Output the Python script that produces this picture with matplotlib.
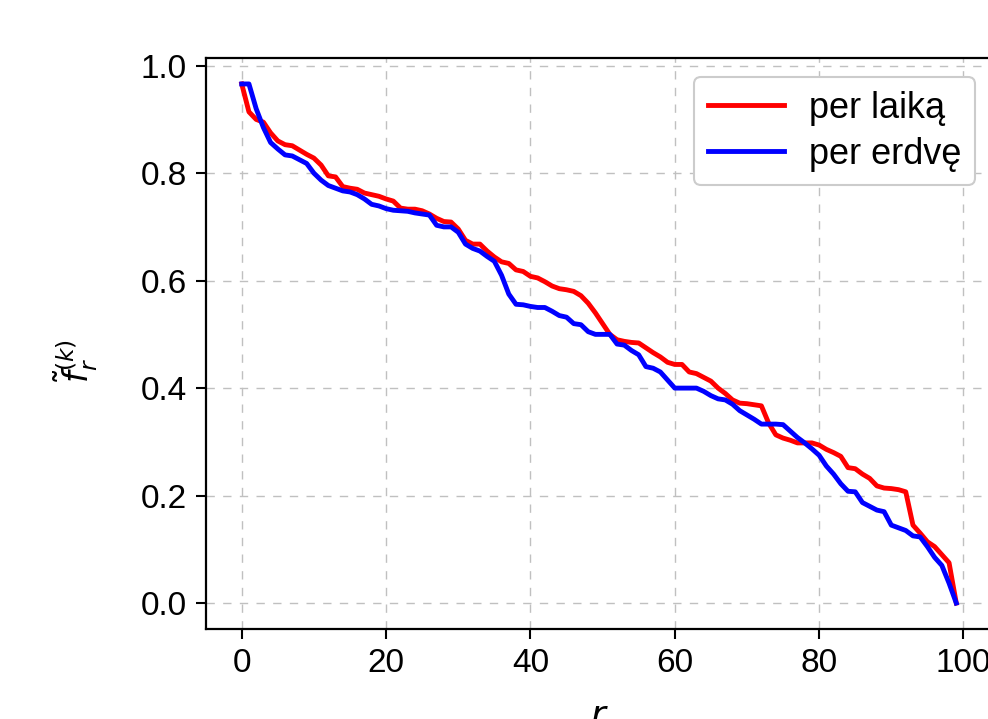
import matplotlib
matplotlib.use("Agg")
import matplotlib.pyplot as plt
import numpy as np

r = list(range(100))
per_laika = [0.966, 0.914, 0.900, 0.895, 0.875, 0.860, 0.853, 0.851, 0.843, 0.835,
             0.828, 0.815, 0.795, 0.793, 0.775, 0.772, 0.770, 0.763, 0.760, 0.757,
             0.752, 0.748, 0.735, 0.733, 0.733, 0.730, 0.724, 0.716, 0.710, 0.709,
             0.696, 0.675, 0.668, 0.668, 0.655, 0.644, 0.635, 0.632, 0.620, 0.617,
             0.608, 0.605, 0.598, 0.590, 0.585, 0.583, 0.580, 0.572, 0.558, 0.540,
             0.520, 0.500, 0.490, 0.487, 0.485, 0.484, 0.475, 0.466, 0.458, 0.448,
             0.444, 0.444, 0.430, 0.427, 0.420, 0.413, 0.400, 0.390, 0.378, 0.372,
             0.371, 0.369, 0.367, 0.335, 0.313, 0.307, 0.303, 0.298, 0.298, 0.298,
             0.294, 0.286, 0.280, 0.273, 0.252, 0.250, 0.240, 0.232, 0.218, 0.214,
             0.213, 0.211, 0.207, 0.145, 0.130, 0.114, 0.105, 0.090, 0.075, 0.000]
per_erdve = [0.966, 0.966, 0.920, 0.885, 0.857, 0.845, 0.834, 0.832, 0.825, 0.818,
             0.800, 0.787, 0.777, 0.772, 0.767, 0.765, 0.760, 0.752, 0.742, 0.739,
             0.734, 0.731, 0.730, 0.729, 0.726, 0.724, 0.722, 0.703, 0.700, 0.700,
             0.690, 0.668, 0.660, 0.655, 0.645, 0.636, 0.610, 0.575, 0.556, 0.555,
             0.552, 0.550, 0.550, 0.543, 0.535, 0.532, 0.520, 0.518, 0.505, 0.500,
             0.500, 0.500, 0.482, 0.480, 0.470, 0.462, 0.440, 0.437, 0.430, 0.415,
             0.400, 0.400, 0.400, 0.400, 0.394, 0.386, 0.380, 0.378, 0.370, 0.358,
             0.350, 0.342, 0.333, 0.333, 0.333, 0.332, 0.320, 0.308, 0.298, 0.287,
             0.275, 0.255, 0.240, 0.222, 0.208, 0.207, 0.187, 0.180, 0.173, 0.170,
             0.145, 0.140, 0.135, 0.125, 0.123, 0.105, 0.085, 0.070, 0.037, 0.000]
labels = ["per laiką", "per erdvę"]
colors = ["red", "blue"]

plt.rcParams['font.family'] = ['Liberation Sans', 'DejaVu Sans']
plt.rcParams['mathtext.fontset'] = 'dejavusans'

W, H = 988, 719
fig = plt.figure(figsize=(W / 100, H / 100), dpi=100)
ax = fig.add_axes([206 / W, 1 - 629 / H, (992 - 206) / W, (629 - 58) / H])

ax.plot(r, per_laika, color=colors[0], lw=3.5, label=labels[0])
ax.plot(r, per_erdve, color=colors[1], lw=3.5, label=labels[1])

ax.grid(True, linestyle=(0, (6, 6)), color='#c0c0c0', lw=1)
ax.set_axisbelow(True)
ax.set_xticks([0, 20, 40, 60, 80, 100])
ax.set_yticks([0.0, 0.2, 0.4, 0.6, 0.8, 1.0])
ax.set_yticklabels(["0.0", "0.2", "0.4", "0.6", "0.8", "1.0"])
ax.tick_params(labelsize=24, width=1.5, length=7, pad=7)
for s in ax.spines.values():
    s.set_linewidth(1.6)
ax.set_xlabel(r"$r$", fontsize=26, labelpad=14)
ax.set_ylabel(r"$\tilde{f}_r^{(k)}$", fontsize=24)
ax.yaxis.set_label_coords(-0.135, 0.47)

leg = ax.legend(loc='upper right', bbox_to_anchor=(975 / W, 1 - 77 / H),
                bbox_transform=fig.transFigure, borderaxespad=0, fontsize=26,
                handlelength=2.1, handletextpad=0.7, labelspacing=0.3,
                borderpad=0.38, framealpha=1, edgecolor='#cccccc', fancybox=True)
leg.get_frame().set_linewidth(1.5)
for line in leg.get_lines():
    line.set_linewidth(3.5)

fig.savefig("out.png", dpi=100)
